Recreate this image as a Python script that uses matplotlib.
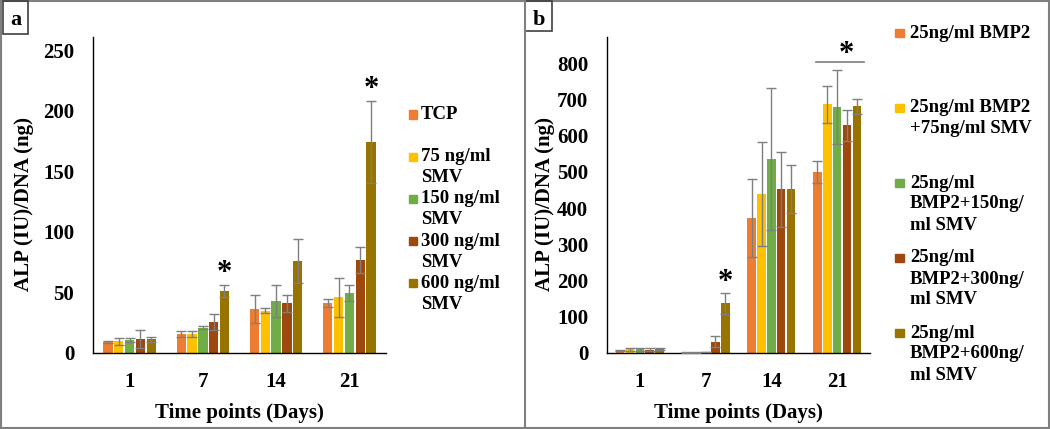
import matplotlib
matplotlib.use("Agg")
import matplotlib.pyplot as plt
from matplotlib.patches import Rectangle
from matplotlib.lines import Line2D
import numpy as np

plt.rcParams['font.family'] = ['Liberation Serif', 'DejaVu Serif']
plt.rcParams['font.weight'] = 'bold'

W, H = 1050, 429
days = ["1", "7", "14", "21"]
colors = ["#ED7D31", "#FFC000", "#70AD47", "#9E480E", "#997300"]

# panel a: SMV alone
labels_a = ["TCP", "75 ng/ml\nSMV", "150 ng/ml\nSMV", "300 ng/ml\nSMV", "600 ng/ml\nSMV"]
vals_a = [[9.3, 15.7, 36.0, 41.0],
          [9.5, 15.4, 34.9, 46.0],
          [10.7, 20.9, 42.9, 49.5],
          [11.5, 25.6, 41.0, 76.7],
          [11.3, 51.2, 75.9, 174.3]]
errs_a = [[1.0, 2.4, 11.6, 3.3],
          [3.0, 2.5, 2.2, 16.0],
          [2.0, 1.0, 13.2, 6.6],
          [7.5, 7.0, 7.0, 10.7],
          [2.0, 5.2, 18.0, 34.0]]

# panel b: BMP2 + SMV
labels_b = ["25ng/ml BMP2", "25ng/ml BMP2\n+75ng/ml SMV", "25ng/ml\nBMP2+150ng/\nml SMV",
            "25ng/ml\nBMP2+300ng/\nml SMV", "25ng/ml\nBMP2+600ng/\nml SMV"]
vals_b = [[7, 1, 372, 500],
          [10, 1, 438, 686],
          [10, 2, 535, 679],
          [9, 31, 452, 628],
          [10, 137, 452, 681]]
errs_b = [[2, 0.5, 107, 30],
          [5, 0.5, 143, 50],
          [5, 0.5, 195, 102],
          [4, 15, 103, 42],
          [3, 28, 67, 21]]


def fx(x): return x / W
def fy(y): return 1 - y / H


fig = plt.figure(figsize=(10.5, 4.29), dpi=100)

# frame and divider
fig.add_artist(Rectangle((fx(1), fy(427.5)), fx(1047.5), (426.5) / H, transform=fig.transFigure,
                         fill=False, edgecolor="#7f7f7f", lw=1.5))
fig.add_artist(Line2D([fx(524.5), fx(524.5)], [fy(0), fy(429)], transform=fig.transFigure,
                      color="#7f7f7f", lw=1.5))


def panel(rect, vals, errs, ymax, yticks, slot):
    ax = fig.add_axes(rect)
    x = np.arange(len(days))
    for i, (v, e) in enumerate(zip(vals, errs)):
        off = (i - 2) * slot
        ax.bar(x + off, v, width=slot * 0.86, color=colors[i], zorder=2)
        ax.errorbar(x + off, v, yerr=e, fmt="none", ecolor="#7f7f7f", elinewidth=1,
                    capsize=3.8, capthick=1, zorder=3)
    ax.set_xlim(-0.5, 3.5)
    ax.set_ylim(0, ymax)
    ax.set_yticks(yticks)
    ax.set_xticks(x)
    ax.set_xticklabels(days)
    for s in ["top", "right"]:
        ax.spines[s].set_visible(False)
    for s in ["left", "bottom"]:
        ax.spines[s].set_color("black")
        ax.spines[s].set_linewidth(1)
    ax.tick_params(axis="y", length=0, pad=13.5, labelsize=15)
    ax.tick_params(axis="x", length=0, pad=14, labelsize=15)
    ax.text(-0.235, 0.47, "ALP (IU)/DNA (ng)", transform=ax.transAxes, rotation=90,
            ha="center", va="center", fontsize=15, fontweight="bold")
    ax.text(0.5, -0.19, "Time points (Days)", transform=ax.transAxes,
            ha="center", va="center", fontsize=15, fontweight="bold")
    return ax


ax1 = panel([fx(93), fy(353), 293 / W, 316 / H], vals_a, errs_a, 261, range(0, 251, 50), 0.147)
ax2 = panel([fx(607), fy(353), 263 / W, 316 / H], vals_b, errs_b, 872, range(0, 801, 100), 0.15)

# significance stars
star = dict(ha="center", va="center", fontsize=22, fontweight="bold", textcoords="offset points")
ax1.annotate("*", (1 + 2 * 0.147, vals_a[4][1] + errs_a[4][1]), xytext=(0, 8), **star)
ax1.annotate("*", (3 + 2 * 0.147, vals_a[4][3] + errs_a[4][3]), xytext=(0, 8), **star)
ax2.annotate("*", (1 + 2 * 0.15, vals_b[4][1] + errs_b[4][1]), xytext=(0, 8), **star)
ax2.plot([2.68, 3.41], [802, 802], color="#7f7f7f", lw=1.2, clip_on=False)
ax2.annotate("*", (3.135, 802), xytext=(0, 6), **star)


def legend(labels, xm, xt, y0, step, msize):
    for i, lab in enumerate(labels):
        y = y0 + i * step
        fig.add_artist(Rectangle((fx(xm - msize / 2), fy(y + msize / 2)), msize / W, msize / H,
                                 transform=fig.transFigure, color=colors[i]))
        for j, line in enumerate(lab.split("\n")):
            fig.text(fx(xt), fy(y + j * 21), line, ha="left", va="center",
                     fontsize=13.5, fontweight="bold")


legend(labels_a, 413, 421, 114.5, 42.2, 8)
legend(labels_b, 899.5, 910, 33, 75, 8.5)

# panel letters
for letter, x0, x1, y1, xc, yc in [("a", 3, 28, 34, 16, 20), ("b", 525, 552, 31, 538.5, 20)]:
    fig.add_artist(Rectangle((fx(x0), fy(y1)), (x1 - x0) / W, (y1 - 1) / H,
                             transform=fig.transFigure, fill=False, edgecolor="#404040", lw=1.2))
    fig.text(fx(xc), fy(yc), letter, ha="center", va="center", fontsize=16, fontweight="bold")

fig.savefig("out.png", dpi=100)
